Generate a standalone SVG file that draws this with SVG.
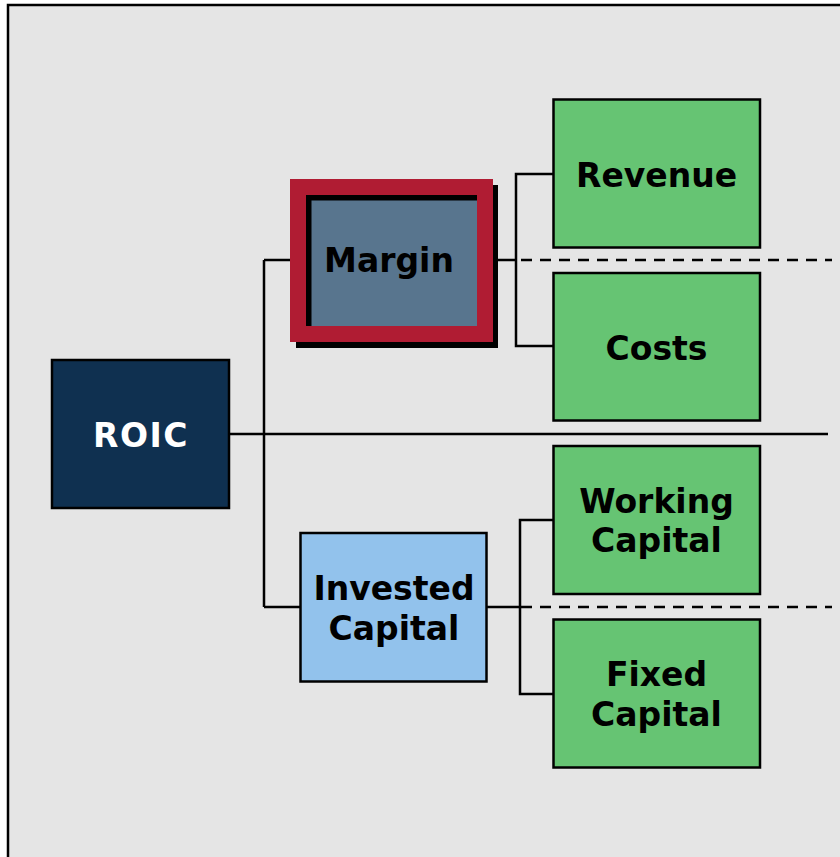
<svg xmlns="http://www.w3.org/2000/svg" width="840" height="857" viewBox="0 0 840 857">
<style>
.t{font-family:"DejaVu Sans","Verdana",sans-serif;font-weight:bold;font-size:33px;text-anchor:middle;fill:#000}
.box{stroke:#000;stroke-width:2.5}
.g{fill:#66c473}
.ln{stroke:#000;stroke-width:2.5;fill:none}
.dash{stroke:#000;stroke-width:2.5;stroke-dasharray:11 8;fill:none}
</style>
<rect x="0" y="0" width="840" height="857" fill="#ffffff"/>
<rect x="8" y="5" width="900" height="900" fill="#e5e5e5" stroke="#000" stroke-width="2.5"/>
<g id="connectors">
<path class="ln" d="M264 260 V607 M264 260 H291 M264 607 H301 M229 434 H828"/>
<path class="ln" d="M493 260 H516 M553 174 H516 V346 H553"/>
<path class="ln" d="M486 607 H520 M553 520 H520 V694 H553"/>
<path class="dash" d="M521 260 H832"/>
<path class="dash" d="M521 607 H832"/>
</g>
<g id="roic">
<rect class="box" x="52" y="360" width="177" height="148" fill="#0f3050"/>
<text class="t" x="141" y="446.5" fill="#fff" style="fill:#fff;letter-spacing:1.5px">ROIC</text>
</g>
<g id="margin">
<rect x="296" y="185" width="202" height="163" fill="#000"/>
<rect x="290" y="179" width="203" height="163" fill="#b01c33"/>
<rect x="306" y="195" width="171" height="131" fill="#000"/>
<rect x="311.5" y="200.5" width="165.5" height="125.5" fill="#58758e"/>
<text class="t" x="389" y="272">Margin</text>
</g>
<g id="invested">
<rect class="box" x="300.5" y="533" width="186" height="148.5" fill="#92c2ec"/>
<text class="t" x="394" y="600">Invested</text>
<text class="t" x="394" y="639.5">Capital</text>
</g>
<g id="revenue">
<rect class="box g" x="553.5" y="99.5" width="206.5" height="148"/>
<text class="t" x="656.5" y="187">Revenue</text>
</g>
<g id="costs">
<rect class="box g" x="553.5" y="273" width="206.5" height="147.5"/>
<text class="t" x="656.5" y="360">Costs</text>
</g>
<g id="working">
<rect class="box g" x="553.5" y="446" width="206.5" height="148"/>
<text class="t" x="656.5" y="512.5">Working</text>
<text class="t" x="656.5" y="552">Capital</text>
</g>
<g id="fixed">
<rect class="box g" x="553.5" y="619.5" width="206.5" height="148"/>
<text class="t" x="656.5" y="686">Fixed</text>
<text class="t" x="656.5" y="725.5">Capital</text>
</g>
</svg>
